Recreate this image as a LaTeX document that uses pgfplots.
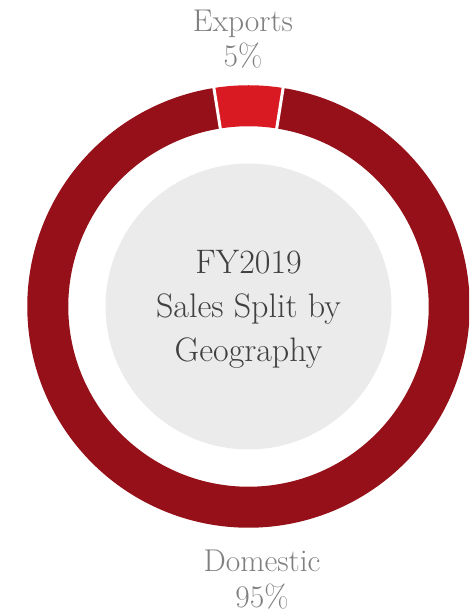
\documentclass[border=0pt]{standalone}
\usepackage{pgfplots}
\pgfplotsset{compat=1.18}
\usepackage{pgfplotstable}
\definecolor{domred}{HTML}{951018}
\definecolor{expred}{HTML}{DA1A22}
\definecolor{discgrey}{HTML}{EBEBEB}
\definecolor{labelgrey}{HTML}{7F7F7F}
\definecolor{centertext}{HTML}{404040}
% shares in percent
\pgfplotstableread{
label share
Exports 5
Domestic 95
}\sharetable
\begin{document}
\begin{tikzpicture}
\pgfplotstablegetelem{0}{share}\of\sharetable \let\expshare\pgfplotsretval
\pgfplotstablegetelem{1}{share}\of\sharetable \let\domshare\pgfplotsretval
\pgfmathsetmacro{\expstart}{90-\expshare*3.6/2}
\pgfmathsetmacro{\expend}{90+\expshare*3.6/2}
\pgfmathsetmacro{\domend}{\expend+\domshare*3.6}
\begin{axis}[
  name=ax,
  hide axis, scale only axis,
  width=469pt, height=616pt,
  xmin=-248.5, xmax=220.5, ymin=-309.5, ymax=306.5,
  clip=true,
]
% centre disc
\addplot[draw=none, fill=discgrey, data cs=polar, domain=0:360, samples=181] ({x},{143});
% ring segments
\addplot[domred, line width=41pt, data cs=polar, domain=\expend:\domend, samples=241] ({x},{200.75});
\addplot[expred, line width=41pt, data cs=polar, domain=\expstart:\expend, samples=21] ({x},{200.75});
% white separators
\addplot[white, line width=3pt, data cs=polar] coordinates {(\expstart,175) (\expstart,228)};
\addplot[white, line width=3pt, data cs=polar] coordinates {(\expend,175) (\expend,228)};
\end{axis}
\path (ax.south west) rectangle (ax.north east);
\begin{axis}[
  hide axis, scale only axis,
  width=469pt, height=616pt,
  xmin=-248.5, xmax=220.5, ymin=-309.5, ymax=306.5,
  clip=false,
]
\node[anchor=base, font=\fontsize{31.5}{36}\selectfont, text=labelgrey] at (axis cs:-5.5,274.5) {Exports};
\node[anchor=base, font=\fontsize{31.5}{36}\selectfont, text=labelgrey] at (axis cs:-5.5,239.5) {5\%};
\node[anchor=base, font=\fontsize{31.5}{36}\selectfont, text=labelgrey] at (axis cs:13.5,-265.5) {Domestic};
\node[anchor=base, font=\fontsize{31.5}{36}\selectfont, text=labelgrey] at (axis cs:13.5,-301.5) {95\%};
\node[anchor=base, font=\fontsize{34}{40}\selectfont, text=centertext] at (axis cs:0,32.5) {FY2019};
\node[anchor=base, font=\fontsize{34}{40}\selectfont, text=centertext] at (axis cs:0,-11.5) {Sales Split by};
\node[anchor=base, font=\fontsize{34}{40}\selectfont, text=centertext] at (axis cs:0,-55.5) {Geography};
\end{axis}
\end{tikzpicture}
\end{document}
